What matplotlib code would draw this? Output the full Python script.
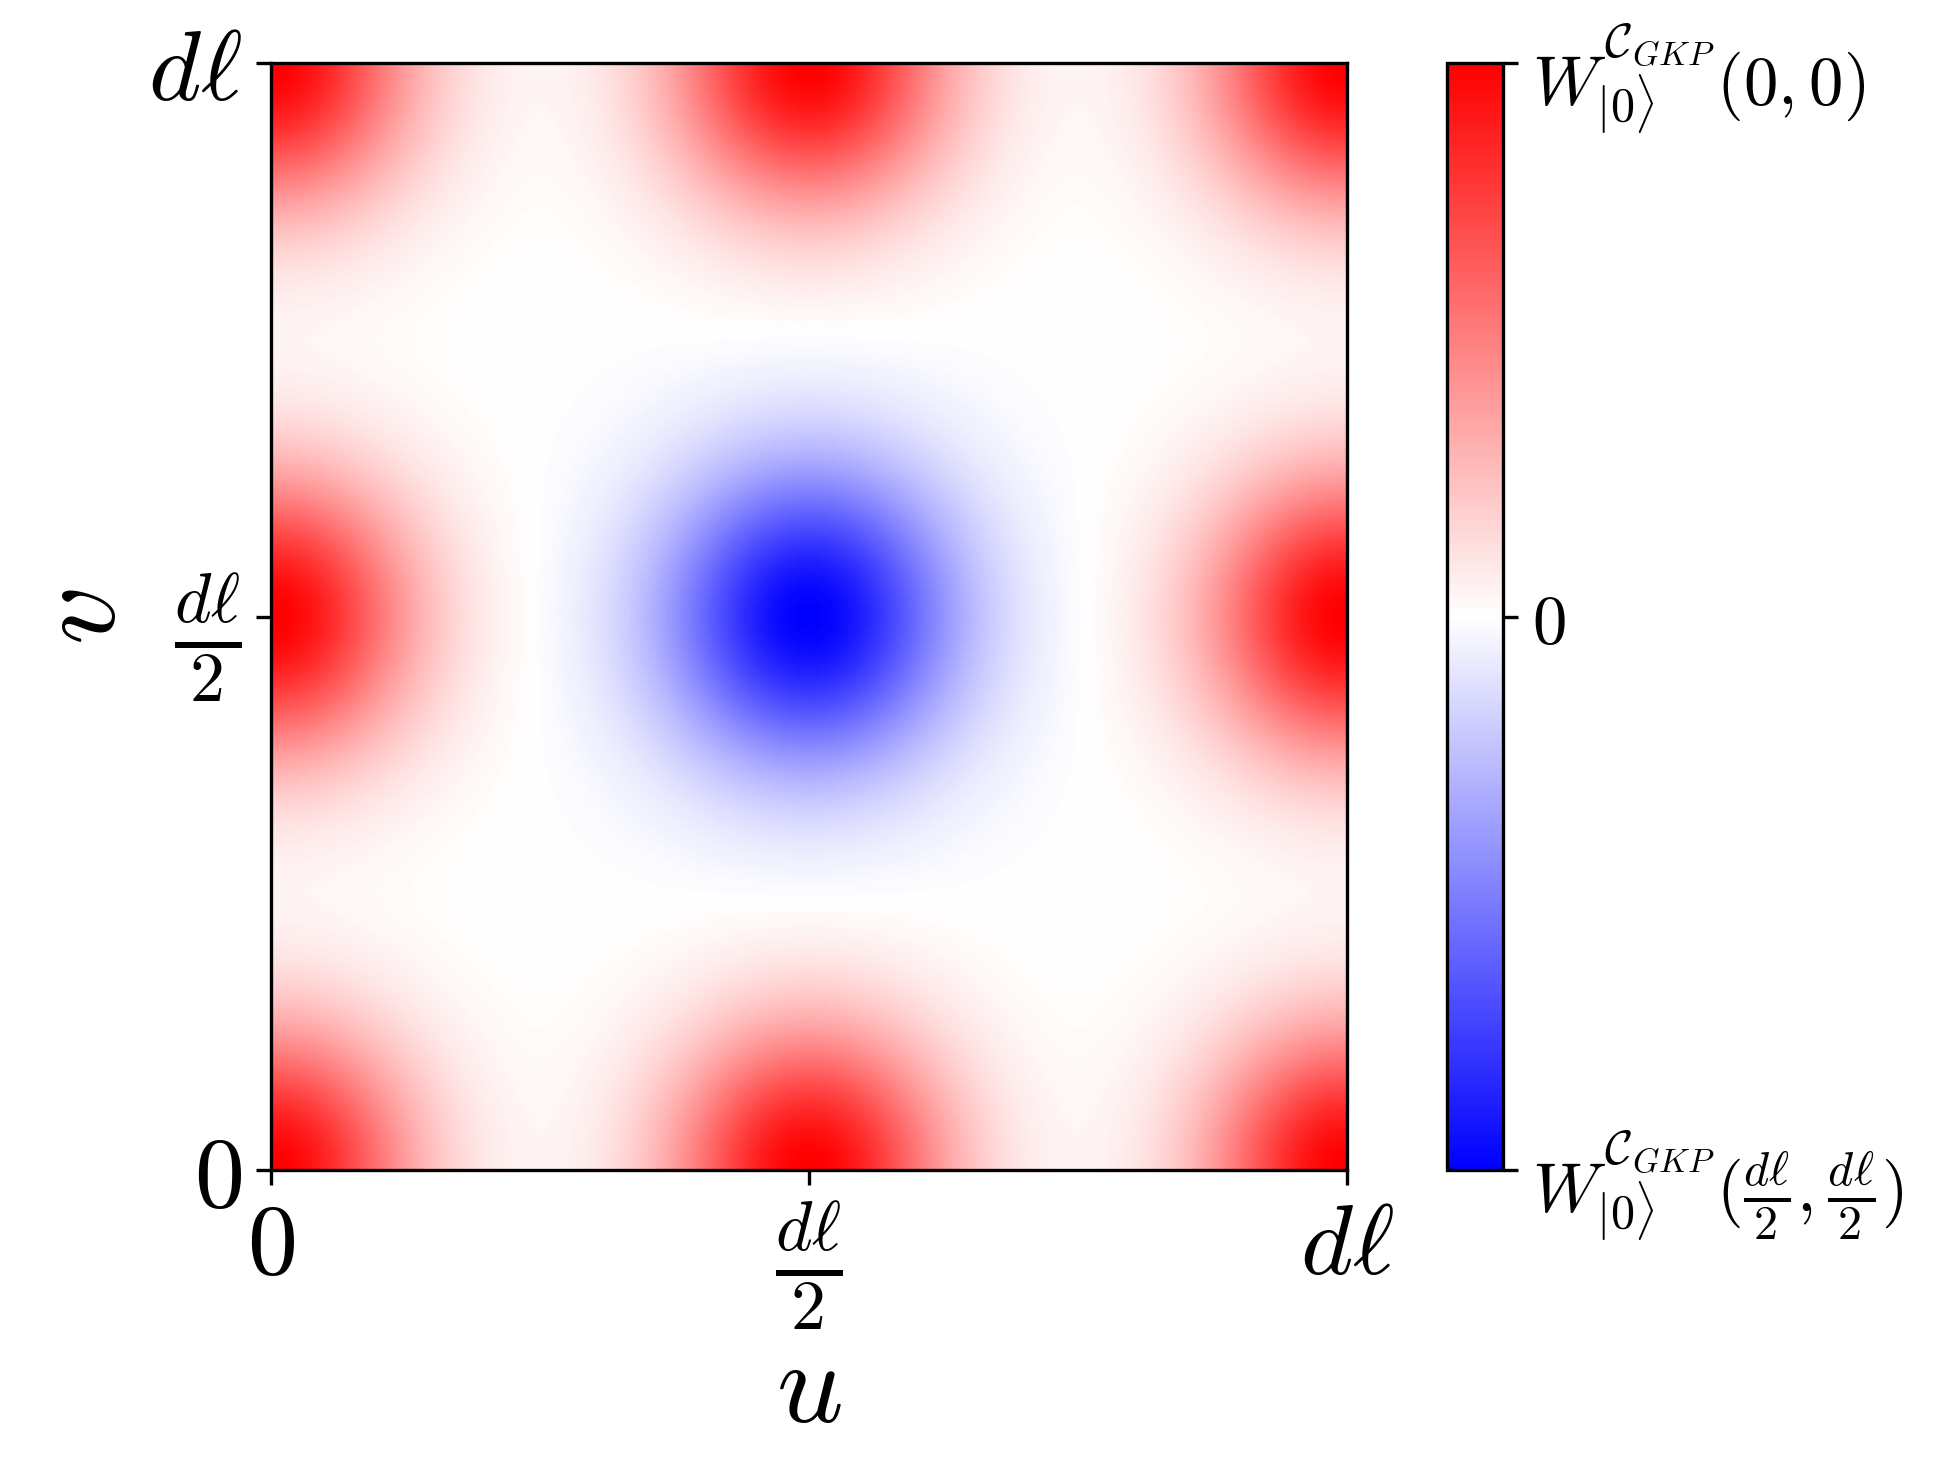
import numpy as np
import matplotlib
matplotlib.use("Agg")
import matplotlib.pyplot as plt
from matplotlib.colors import TwoSlopeNorm

plt.rcParams['mathtext.fontset'] = 'cm'
plt.rcParams['font.family'] = 'DejaVu Serif'

# Peaks of the Wigner function (units of d*ell)
peak_u = [0.0, 0.5, 1.0, 0.0, 0.5, 1.0, 0.0, 0.5, 1.0]
peak_v = [0.0, 0.0, 0.0, 0.5, 0.5, 0.5, 1.0, 1.0, 1.0]
peak_amp = [1.0, 1.0, 1.0, 1.0, -1.0, 1.0, 1.0, 1.0, 1.0]
peak_sigma = [0.09, 0.09, 0.09, 0.09, 0.095, 0.09, 0.09, 0.09, 0.09]

tick_pos = [0.0, 0.5, 1.0]
tick_labels = [r'$0$', r'$\frac{d\ell}{2}$', r'$d\ell$']
cbar_labels = [r'$W^{\mathcal{C}_{GKP}}_{|0\rangle}(\frac{d\ell}{2},\frac{d\ell}{2})$',
               r'$0$',
               r'$W^{\mathcal{C}_{GKP}}_{|0\rangle}(0,0)$']

n = 600
g = np.linspace(0, 1, n)
U, V = np.meshgrid(g, g)
W = np.zeros_like(U)
for pu, pv, a, s in zip(peak_u, peak_v, peak_amp, peak_sigma):
    W += a * np.exp(-((U - pu) ** 2 + (V - pv) ** 2) / (2 * s ** 2))

fig = plt.figure(figsize=(1952 / 300, 1474 / 300), dpi=300)
ax = fig.add_axes([271 / 1952, 1 - 1170 / 1474, 1076 / 1952, 1107 / 1474])
cax = fig.add_axes([1447 / 1952, 1 - 1170 / 1474, 56 / 1952, 1107 / 1474])

norm = TwoSlopeNorm(vcenter=0.0, vmin=W.min(), vmax=W.max())
im = ax.imshow(W, origin='lower', extent=[0, 1, 0, 1], cmap='bwr', norm=norm,
               aspect='auto', interpolation='bilinear')

ax.set_xticks(tick_pos)
ax.set_xticklabels(tick_labels, fontsize=24)
ax.set_yticks(tick_pos)
ax.set_yticklabels(tick_labels, fontsize=24)
ax.set_xlabel(r'$u$', fontsize=28, labelpad=0)
ax.set_ylabel(r'$v$', fontsize=28, labelpad=2)

cb = fig.colorbar(im, cax=cax)
cb.set_ticks([W.min(), 0.0, W.max()])
cb.set_ticklabels(cbar_labels, fontsize=16.5)
cb.outline.set_linewidth(0.8)

fig.savefig('out.png', dpi=300)
